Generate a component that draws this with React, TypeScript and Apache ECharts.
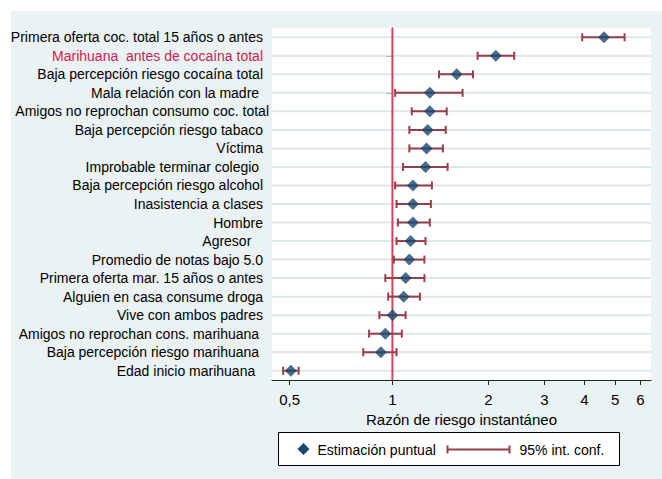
import React, { useEffect, useRef } from "react";
import * as echarts from "echarts";

const categories = [
  "Primera oferta coc. total 15 años o antes",
  "Marihuana  antes de cocaína total",
  "Baja percepción riesgo cocaína total",
  "Mala relación con la madre\u00a0",
  "Amigos no reprochan consumo coc. total",
  "Baja percepción riesgo tabaco",
  "Víctima",
  "Improbable terminar colegio\u00a0",
  "Baja percepción riesgo alcohol",
  "Inasistencia a clases",
  "Hombre",
  "Agresor\u00a0\u00a0\u00a0",
  "Promedio de notas bajo 5.0",
  "Primera oferta mar. 15 años o antes",
  "Alguien en casa consume droga",
  "Vive con ambos padres",
  "Amigos no reprochan cons. marihuana\u00a0",
  "Baja percepción riesgo marihuana\u00a0",
  "Edad inicio marihuana\u00a0\u00a0",
];
const highlighted = ["Marihuana  antes de cocaína total"];
const overhanging = ["Amigos no reprochan consumo coc. total"];

const estimates = [4.61, 2.11, 1.59, 1.31, 1.31, 1.29, 1.28, 1.27, 1.16, 1.16, 1.16, 1.14, 1.13, 1.1, 1.085, 1.0, 0.95, 0.92, 0.48];
const ciLow = [3.94, 1.85, 1.4, 1.02, 1.15, 1.13, 1.13, 1.08, 1.02, 1.03, 1.04, 1.03, 1.01, 0.95, 0.97, 0.91, 0.845, 0.81, 0.454];
const ciHigh = [5.35, 2.41, 1.79, 1.66, 1.48, 1.47, 1.44, 1.49, 1.33, 1.32, 1.31, 1.27, 1.26, 1.26, 1.22, 1.1, 1.07, 1.03, 0.508];

const tickValues = [0.476, 1, 2, 3, 4, 5, 6];
const tickLabels = ["0,5", "1", "2", "3", "4", "5", "6"];
const axisMin = 0.419;
const axisMax = 6.475;
const refValue = 1;

const xTitle = "Razón de riesgo instantáneo";
const legendPoint = "Estimación puntual";
const legendCI = "95% int. conf.";

const FONT = "'Liberation Sans', Arial, sans-serif";
const NAVY = "#1a476f";
const CI_COLOR = "#983e48";
const REF_COLOR = "#d8405f";
const GRID_COLOR = "#dde6ea";
const BG = "#eaf2f3";

export default function App() {
  const ref = useRef<HTMLDivElement>(null);
  useEffect(() => {
    document.body.style.margin = "0";
    if (!ref.current) return;
    const chart = echarts.init(ref.current, undefined, { renderer: "svg" });
    const lnTicks = tickValues.map((v) => Math.log(v));
    const option: any = {
      animation: false,
      backgroundColor: BG,
      grid: {
        left: 261,
        top: 17,
        right: 11,
        bottom: 99,
        containLabel: false,
        outerBoundsMode: "none",
        show: true,
        backgroundColor: "#ffffff",
        borderWidth: 0,
      },
      xAxis: {
        type: "value",
        min: Math.log(axisMin),
        max: Math.log(axisMax),
        splitLine: { show: false },
        axisLine: { show: true, lineStyle: { color: "#222", width: 1 } },
        axisTick: { show: true, length: 5, customValues: lnTicks, lineStyle: { color: "#222" } },
        axisLabel: {
          customValues: lnTicks,
          fontSize: 15,
          fontFamily: FONT,
          color: "#000",
          margin: 12,
          formatter: (val: number) => {
            for (let i = 0; i < lnTicks.length; i++) {
              if (Math.abs(lnTicks[i] - val) < 1e-6) return tickLabels[i];
            }
            return "";
          },
        },
        name: xTitle,
        nameLocation: "middle",
        nameGap: 30,
        nameTextStyle: { fontSize: 15, fontFamily: FONT, color: "#000" },
      },
      yAxis: {
        type: "category",
        inverse: true,
        data: categories.map((c) => {
          if (highlighted.includes(c)) return { value: c, textStyle: { color: "#cc1f4e" } };
          if (overhanging.includes(c)) return { value: c, textStyle: { padding: [0, -6, 0, 0] } };
          return c;
        }),
        axisLine: { show: true, lineStyle: { color: "#222", width: 1 } },
        axisTick: { show: true, alignWithLabel: true, length: 6, lineStyle: { color: "#222" } },
        axisLabel: { interval: 0, fontSize: 14, fontFamily: FONT, color: "#000", margin: 9 },
        splitLine: { show: false },
      },
      series: [
        {
          type: "custom",
          z: 2,
          silent: true,
          encode: { x: 0, y: 1 },
          data: categories.map((c, i) => [0, i]),
          renderItem: (params: any, api: any) => {
            const p = api.coord([api.value(0), api.value(1)]);
            const cs = params.coordSys;
            return {
              type: "line",
              shape: { x1: cs.x, y1: p[1], x2: cs.x + cs.width, y2: p[1] },
              style: { stroke: GRID_COLOR, lineWidth: 2 },
            };
          },
        },
        {
          type: "custom",
          z: 3,
          silent: true,
          encode: { x: 0, y: 1 },
          data: [[Math.log(refValue), 0]],
          renderItem: (params: any, api: any) => {
            const p = api.coord([api.value(0), api.value(1)]);
            const cs = params.coordSys;
            return {
              type: "line",
              shape: { x1: p[0], y1: cs.y, x2: p[0], y2: cs.y + cs.height },
              style: { stroke: REF_COLOR, lineWidth: 2 },
            };
          },
        },
        {
          type: "custom",
          name: legendCI,
          z: 4,
          encode: { x: [0, 1], y: 2 },
          data: categories.map((c, i) => [Math.log(ciLow[i]), Math.log(ciHigh[i]), i]),
          renderItem: (params: any, api: any) => {
            const a = api.coord([api.value(0), api.value(2)]);
            const b = api.coord([api.value(1), api.value(2)]);
            const style = { stroke: CI_COLOR, lineWidth: 2 };
            return {
              type: "group",
              children: [
                { type: "line", shape: { x1: a[0], y1: a[1], x2: b[0], y2: b[1] }, style },
                { type: "line", shape: { x1: a[0], y1: a[1] - 4, x2: a[0], y2: a[1] + 4 }, style },
                { type: "line", shape: { x1: b[0], y1: b[1] - 4, x2: b[0], y2: b[1] + 4 }, style },
              ],
            };
          },
        },
        {
          type: "scatter",
          name: legendPoint,
          z: 5,
          symbol: "diamond",
          symbolSize: 12,
          itemStyle: { color: NAVY },
          data: categories.map((c, i) => [Math.log(estimates[i]), i]),
        },
      ],
      graphic: [
        {
          type: "group",
          left: 267,
          top: 421,
          children: [
            {
              type: "rect",
              shape: { x: 0, y: 0, width: 341, height: 33 },
              style: { fill: "#fff", stroke: "#000", lineWidth: 1 },
            },
            {
              type: "polygon",
              shape: { points: [[25, 10.5], [31, 16.5], [25, 22.5], [19, 16.5]] },
              style: { fill: NAVY },
            },
            {
              type: "text",
              x: 39,
              y: 17,
              style: { text: legendPoint, fontSize: 14, fontFamily: FONT, fill: "#000", verticalAlign: "middle" },
            },
            {
              type: "line",
              shape: { x1: 169, y1: 17, x2: 231, y2: 17 },
              style: { stroke: CI_COLOR, lineWidth: 2 },
            },
            {
              type: "line",
              shape: { x1: 169, y1: 13, x2: 169, y2: 21 },
              style: { stroke: CI_COLOR, lineWidth: 2 },
            },
            {
              type: "line",
              shape: { x1: 231, y1: 13, x2: 231, y2: 21 },
              style: { stroke: CI_COLOR, lineWidth: 2 },
            },
            {
              type: "text",
              x: 241,
              y: 17,
              style: { text: legendCI, fontSize: 14, fontFamily: FONT, fill: "#000", verticalAlign: "middle" },
            },
          ],
        },
      ],
    };
    chart.setOption(option);
    return () => chart.dispose();
  }, []);
  return (
    <div style={{ width: 662, height: 479, background: "#fff", position: "relative" }}>
      <div ref={ref} style={{ position: "absolute", left: 11, top: 11, width: 651, height: 468 }} />
    </div>
  );
}
